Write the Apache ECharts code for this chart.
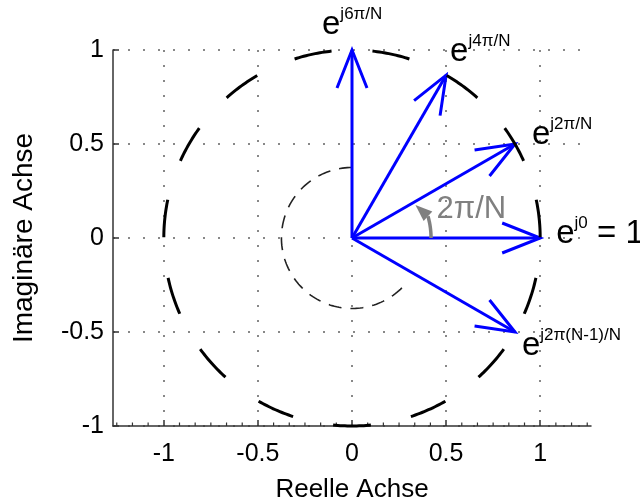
<!DOCTYPE html>
<html><head><meta charset="utf-8">
<script src="https://cdn.jsdelivr.net/npm/echarts@6/dist/echarts.min.js"></script>
<style>html,body{margin:0;padding:0;background:#fff}#c{width:640px;height:498px}</style>
</head><body><div id="c"></div>
<script>
// ---------- data ----------
const N = 12;
const phasorRe = [1, 0.866, 0.5, 0, 0.866];
const phasorIm = [0, 0.5, 0.866, 1, -0.5];
const phasorSup = ['j0', 'j2π/N', 'j4π/N', 'j6π/N', 'j2π(N-1)/N'];
const phasorSuffix = [' = 1', '', '', '', ''];
const xTicks = [-1, -0.5, 0, 0.5, 1];
const yTicks = [-1, -0.5, 0, 0.5, 1];
const xRange = [-1.27, 1.27];
const yRange = [-1, 1];
const unitRadius = 1;
const smallArcRadius = 0.375;
const smallArcDeg = [90, 321];
const angleArcRadius = 0.42;
const angleArcDeg = [0, 16];
const angleArrowTip = [0.38, 27.5];   // polar [r, deg]
const angleLabel = '2π/N';

// ---------- style / layout ----------
const FONT = '"Liberation Sans", Arial, Helvetica, sans-serif';
const labelOffsets = [[16, 7], [17, 2], [4, -12], [-30, -14], [7, 25]]; // px offset of "e" (left, baseline) from tip
const angleLabelOffset = [84.5, -18];
const E_SIZE = 33, SUP_SIZE = 17;
const bigDash = {count: 15, fill: 0.48, phase: -90};

function arcPts(api, r, a0, a1, n) {
  const pts = [];
  for (let i = 0; i <= n; i++) {
    const a = (a0 + (a1 - a0) * i / n) * Math.PI / 180;
    pts.push(api.coord([r * Math.cos(a), r * Math.sin(a)]));
  }
  return pts;
}
function txt(x, baseline, text, size, color) {
  return {type: 'text', x: x, y: baseline - 0.35 * size,
    style: {text: text, font: size + 'px ' + FONT, fill: color, align: 'left', verticalAlign: 'middle'}};
}
function measure(text, size) {
  const c = document.createElement('canvas').getContext('2d');
  c.font = size + 'px ' + FONT;
  return c.measureText(text).width;
}

const minorVals = [];
for (let k = -15; k <= 15; k++) { if (k % 6 !== 0) minorVals.push(k / 12); }

const chart = echarts.init(document.getElementById('c'), null, {renderer: 'canvas', width: 640, height: 498});
chart.setOption({
  animation: false,
  backgroundColor: '#fff',
  grid: {left: 113, top: 50, right: 49, bottom: 72, containLabel: false, outerBoundsMode: 'none'},
  xAxis: {
    type: 'value', min: xRange[0], max: xRange[1],
    axisLine: {show: true, onZero: false, lineStyle: {color: '#333', width: 1.5}},
    axisTick: {show: true, inside: true, length: 6, customValues: xTicks, lineStyle: {color: '#333', width: 1.5}},
    axisLabel: {customValues: xTicks, fontSize: 25, color: '#000', fontFamily: FONT, margin: 16, formatter: v => String(v)},
    splitLine: {show: true, lineStyle: {color: '#888', width: 2, type: [2, 13]}},
    name: 'Reelle Achse', nameLocation: 'middle', nameGap: 51,
    nameTextStyle: {fontSize: 26, color: '#000', fontFamily: FONT}
  },
  yAxis: {
    type: 'value', min: yRange[0], max: yRange[1], interval: 0.5,
    axisLine: {show: true, onZero: false, lineStyle: {color: '#333', width: 1.5}},
    axisTick: {show: true, inside: true, length: 6, lineStyle: {color: '#333', width: 1.5}},
    axisLabel: {fontSize: 25, color: '#000', fontFamily: FONT, margin: 9, formatter: v => String(v)},
    splitLine: {show: true, lineStyle: {color: '#888', width: 2, type: [2, 13]}},
    name: 'Imaginäre Achse', nameLocation: 'middle', nameGap: 75,
    nameTextStyle: {fontSize: 28, color: '#000', fontFamily: FONT}
  },
  series: [
    { // minor ticks on x axis
      type: 'custom', silent: true, z: 2, data: minorVals.map(v => [v, yRange[0]]),
      renderItem: (p, api) => {
        const c = api.coord([api.value(0), api.value(1)]);
        return {type: 'line', shape: {x1: c[0], y1: c[1], x2: c[0], y2: c[1] - 3.5}, style: {stroke: '#333', lineWidth: 1.2}};
      }
    },
    { // small dashed arc
      type: 'custom', silent: true, z: 3, data: [[0, 0]],
      renderItem: (p, api) => ({type: 'polyline', shape: {points: arcPts(api, smallArcRadius, smallArcDeg[0], smallArcDeg[1], 120)},
        style: {stroke: '#222', lineWidth: 1.6, fill: null, lineDash: [13, 9]}})
    },
    { // blue phasor arrows
      type: 'custom', silent: true, z: 4, data: phasorRe.map((x, i) => [x, phasorIm[i]]),
      renderItem: (p, api) => {
        const o = api.coord([0, 0]), t = api.coord([api.value(0), api.value(1)]);
        const dx = t[0] - o[0], dy = t[1] - o[1], L = Math.hypot(dx, dy);
        const ux = dx / L, uy = dy / L, nx = -uy, ny = ux;
        const b = [t[0] - ux * 38, t[1] - uy * 38];
        return {type: 'group', children: [
          {type: 'line', shape: {x1: o[0], y1: o[1], x2: t[0], y2: t[1]}, style: {stroke: '#0000ff', lineWidth: 3}},
          {type: 'polyline', shape: {points: [[b[0] + nx * 15, b[1] + ny * 15], t, [b[0] - nx * 15, b[1] - ny * 15]]},
            style: {stroke: '#0000ff', lineWidth: 3, fill: null, lineJoin: 'miter'}}
        ]};
      }
    },
    { // big dashed unit circle
      type: 'custom', silent: true, z: 5, data: [[0, 0]],
      renderItem: (p, api) => {
        const ch = [], step = 360 / bigDash.count, h = step * bigDash.fill / 2;
        for (let k = 0; k < bigDash.count; k++) {
          const c = bigDash.phase + k * step;
          ch.push({type: 'polyline', shape: {points: arcPts(api, unitRadius, c - h, c + h, 16)},
            style: {stroke: '#000', lineWidth: 3, fill: null}});
        }
        return {type: 'group', children: ch};
      }
    },
    { // grey angle arrow + label
      type: 'custom', silent: true, z: 6, data: [[0, 0]],
      renderItem: (p, api) => {
        const pts = arcPts(api, angleArcRadius, angleArcDeg[0], angleArcDeg[1], 20);
        const e = pts[pts.length - 1];
        const ta = angleArrowTip[1] * Math.PI / 180;
        const t = api.coord([angleArrowTip[0] * Math.cos(ta), angleArrowTip[0] * Math.sin(ta)]);
        const dx = t[0] - e[0], dy = t[1] - e[1], L = Math.hypot(dx, dy);
        const nx = -dy / L, ny = dx / L, w = 6.5;
        const o = api.coord([0, 0]);
        return {type: 'group', children: [
          {type: 'polyline', shape: {points: pts}, style: {stroke: '#808080', lineWidth: 3.5, fill: null}},
          {type: 'polygon', shape: {points: [t, [e[0] + nx * w, e[1] + ny * w], [e[0] - nx * w, e[1] - ny * w]]}, style: {fill: '#808080'}},
          txt(o[0] + angleLabelOffset[0], o[1] + angleLabelOffset[1], angleLabel, 31, '#808080')
        ]};
      }
    },
    { // phasor labels
      type: 'custom', silent: true, z: 7, data: phasorRe.map((x, i) => [x, phasorIm[i], i]),
      renderItem: (p, api) => {
        const i = api.value(2);
        const c = api.coord([api.value(0), api.value(1)]);
        const ex = c[0] + labelOffsets[i][0], eb = c[1] + labelOffsets[i][1];
        const sx = ex + measure('e', E_SIZE);
        const ch = [txt(ex, eb, 'e', E_SIZE, '#000'), txt(sx, eb - 16, phasorSup[i], SUP_SIZE, '#000')];
        if (phasorSuffix[i]) ch.push(txt(sx + measure(phasorSup[i], SUP_SIZE), eb, phasorSuffix[i], E_SIZE, '#000'));
        return {type: 'group', children: ch};
      }
    }
  ]
});
</script>
</body></html>
